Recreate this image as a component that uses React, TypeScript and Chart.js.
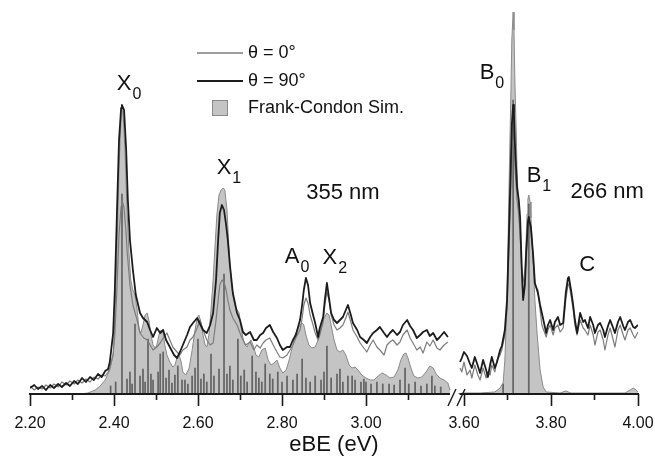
import { useEffect, useRef } from 'react';
import { Chart, registerables } from 'chart.js';

Chart.register(...registerables);

// ---------- DATA (eBE in eV, intensity in arbitrary units) ----------
const THETA90_LEFT: [number, number][] = [
  [2.200,6],[2.210,9],[2.219,5],[2.229,8],[2.238,4],[2.248,9],[2.257,6],[2.267,10],[2.276,7],[2.286,11],
  [2.295,8],[2.305,13],[2.314,10],[2.324,16],[2.333,12],[2.343,17],[2.352,14],[2.362,20],[2.371,17],[2.379,23],
  [2.386,25],[2.390,32],[2.398,61],[2.402,104],[2.407,181],[2.412,254],[2.417,286],[2.419,289],[2.424,284],[2.429,244],
  [2.433,194],[2.438,154],[2.445,124],[2.452,99],[2.462,81],[2.469,76],[2.479,72],[2.486,64],[2.493,57],[2.502,66],
  [2.510,61],[2.517,64],[2.524,54],[2.533,47],[2.543,39],[2.550,36],[2.557,42],[2.564,49],[2.574,59],[2.581,67],
  [2.590,72],[2.598,76],[2.605,70],[2.612,64],[2.621,61],[2.629,69],[2.636,81],[2.643,114],[2.648,154],[2.652,181],
  [2.657,189],[2.662,184],[2.667,169],[2.671,154],[2.676,129],[2.683,101],[2.693,81],[2.700,74],[2.707,62],[2.714,59],
  [2.724,62],[2.733,54],[2.740,54],[2.748,59],[2.755,61],[2.762,66],[2.771,69],[2.779,62],[2.788,56],[2.795,49],
  [2.802,44],[2.812,47],[2.819,47],[2.826,54],[2.833,59],[2.843,74],[2.848,89],[2.852,104],[2.857,116],[2.862,109],
  [2.867,91],[2.874,79],[2.879,71],[2.886,57],[2.890,66],[2.898,77],[2.902,94],[2.907,111],[2.912,96],[2.917,81],
  [2.924,74],[2.931,71],[2.938,74],[2.945,77],[2.952,84],[2.957,89],[2.964,79],[2.969,71],[2.979,64],[2.986,57],
  [2.995,54],[3.002,51],[3.010,57],[3.017,61],[3.026,64],[3.033,67],[3.043,61],[3.050,57],[3.057,61],[3.064,64],
  [3.074,59],[3.081,62],[3.088,69],[3.098,74],[3.105,68],[3.112,64],[3.121,56],[3.129,59],[3.136,62],[3.145,64],
  [3.152,58],[3.160,61],[3.169,54],[3.176,57],[3.186,62],[3.195,57],
];

const THETA90_RIGHT: [number, number][] = [
  [3.591,32],[3.595,36],[3.600,42],[3.607,38],[3.614,30],[3.618,26],[3.625,37],[3.632,28],[3.637,21],[3.644,34],
  [3.651,24],[3.655,17],[3.660,29],[3.664,37],[3.671,26],[3.676,32],[3.683,44],[3.687,48],[3.694,64],[3.699,94],
  [3.703,154],[3.708,234],[3.710,269],[3.713,289],[3.715,279],[3.717,251],[3.722,207],[3.726,194],[3.729,177],[3.733,124],
  [3.736,94],[3.740,109],[3.743,141],[3.747,172],[3.749,177],[3.754,166],[3.759,139],[3.763,111],[3.770,101],[3.775,89],
  [3.779,81],[3.789,61],[3.793,69],[3.798,74],[3.805,64],[3.809,72],[3.816,77],[3.821,69],[3.828,71],[3.834,101],
  [3.839,116],[3.841,117],[3.846,104],[3.851,89],[3.855,74],[3.860,61],[3.867,81],[3.874,72],[3.878,74],[3.885,66],
  [3.890,77],[3.897,69],[3.901,61],[3.908,69],[3.913,71],[3.920,64],[3.924,57],[3.931,68],[3.936,74],[3.943,66],
  [3.947,61],[3.954,72],[3.959,77],[3.966,68],[3.970,64],[3.977,72],[3.982,74],[3.989,67],[3.993,66],[4.000,69],
];

const THETA0_LEFT: [number, number][] = [
  [2.200,8],[2.210,4],[2.219,7],[2.229,5],[2.238,9],[2.248,6],[2.257,10],[2.267,7],[2.276,12],[2.286,9],
  [2.295,13],[2.305,10],[2.314,14],[2.324,11],[2.333,15],[2.343,12],[2.352,17],[2.362,15],[2.371,19],[2.379,18],
  [2.386,22],[2.390,26],[2.398,40],[2.402,60],[2.407,105],[2.412,160],[2.417,188],[2.419,194],[2.424,186],[2.429,160],
  [2.431,144],[2.438,109],[2.445,89],[2.455,74],[2.462,61],[2.471,56],[2.479,54],[2.486,49],[2.493,44],[2.502,47],
  [2.510,51],[2.517,56],[2.526,61],[2.533,54],[2.540,47],[2.550,42],[2.557,39],[2.564,44],[2.574,47],[2.581,54],
  [2.588,57],[2.598,66],[2.605,74],[2.612,64],[2.621,54],[2.629,49],[2.636,51],[2.643,74],[2.648,94],[2.652,109],
  [2.657,114],[2.662,112],[2.667,104],[2.671,94],[2.676,84],[2.683,76],[2.693,69],[2.700,61],[2.707,54],[2.714,49],
  [2.724,52],[2.733,44],[2.740,49],[2.748,46],[2.755,51],[2.762,54],[2.771,56],[2.779,49],[2.788,42],[2.795,37],
  [2.802,36],[2.812,39],[2.819,44],[2.826,49],[2.833,56],[2.843,64],[2.848,76],[2.852,89],[2.857,96],[2.862,91],
  [2.867,79],[2.874,69],[2.879,61],[2.886,54],[2.890,59],[2.898,72],[2.902,89],[2.907,102],[2.912,94],[2.917,79],
  [2.924,69],[2.931,64],[2.938,66],[2.945,69],[2.952,76],[2.957,82],[2.964,72],[2.969,64],[2.979,57],[2.986,51],
  [2.995,46],[3.002,42],[3.010,49],[3.017,54],[3.026,47],[3.033,44],[3.043,39],[3.050,49],[3.057,52],[3.064,54],
  [3.074,49],[3.081,52],[3.088,59],[3.098,64],[3.105,56],[3.112,51],[3.121,44],[3.129,47],[3.136,41],[3.145,52],
  [3.152,48],[3.160,54],[3.169,46],[3.176,44],[3.186,49],[3.195,52],
];

const THETA0_RIGHT: [number, number][] = [
  [3.591,26],[3.595,22],[3.600,32],[3.607,19],[3.614,24],[3.618,16],[3.625,29],[3.632,19],[3.637,14],[3.644,26],
  [3.651,16],[3.655,22],[3.660,19],[3.664,29],[3.671,22],[3.676,34],[3.683,39],[3.687,44],[3.694,59],[3.699,84],
  [3.703,139],[3.708,209],[3.710,239],[3.713,254],[3.715,249],[3.717,229],[3.722,194],[3.726,179],[3.729,164],[3.733,119],
  [3.736,96],[3.740,114],[3.743,139],[3.747,164],[3.749,169],[3.754,162],[3.759,136],[3.763,109],[3.770,104],[3.775,84],
  [3.779,69],[3.789,57],[3.793,64],[3.798,69],[3.805,59],[3.809,66],[3.816,69],[3.821,62],[3.828,66],[3.834,94],
  [3.839,109],[3.841,110],[3.846,99],[3.851,84],[3.855,69],[3.860,59],[3.867,74],[3.874,66],[3.878,64],[3.885,59],
  [3.890,69],[3.897,59],[3.901,49],[3.908,62],[3.913,64],[3.920,54],[3.924,44],[3.931,59],[3.936,66],[3.943,54],
  [3.947,47],[3.954,64],[3.959,69],[3.966,59],[3.970,54],[3.977,64],[3.982,66],[3.989,59],[3.993,56],[4.000,62],
];

const SIM_LEFT: [number, number][] = [
  [2.200,0],[2.319,0],[2.338,1],[2.355,4],[2.367,8],[2.379,14],[2.390,24],[2.398,39],[2.402,74],[2.407,144],
  [2.412,224],[2.417,279],[2.419,289],[2.421,286],[2.426,244],[2.431,184],[2.436,139],[2.440,114],[2.445,104],[2.450,99],
  [2.455,84],[2.460,64],[2.464,61],[2.469,69],[2.474,79],[2.479,81],[2.483,74],[2.488,59],[2.493,49],[2.498,46],
  [2.502,49],[2.507,59],[2.512,64],[2.517,61],[2.521,49],[2.526,39],[2.533,32],[2.540,27],[2.545,29],[2.550,36],
  [2.555,39],[2.560,32],[2.564,22],[2.571,19],[2.579,26],[2.586,44],[2.593,64],[2.598,76],[2.602,79],[2.607,72],
  [2.612,59],[2.617,49],[2.621,47],[2.626,59],[2.631,84],[2.636,114],[2.640,144],[2.645,179],[2.650,199],[2.655,204],
  [2.660,206],[2.664,204],[2.669,184],[2.674,144],[2.679,111],[2.683,99],[2.688,89],[2.693,84],[2.698,81],[2.702,69],
  [2.707,56],[2.712,49],[2.717,47],[2.721,51],[2.726,54],[2.731,49],[2.738,39],[2.745,37],[2.752,44],[2.760,46],
  [2.767,34],[2.774,29],[2.781,31],[2.788,34],[2.795,26],[2.802,21],[2.810,24],[2.817,34],[2.824,46],[2.831,59],
  [2.838,66],[2.843,69],[2.848,71],[2.852,69],[2.857,59],[2.864,49],[2.871,46],[2.879,47],[2.886,54],[2.893,66],
  [2.900,76],[2.907,81],[2.912,79],[2.917,69],[2.924,54],[2.931,44],[2.938,42],[2.945,44],[2.952,39],[2.960,29],
  [2.967,26],[2.974,27],[2.981,24],[2.990,19],[3.000,16],[3.010,14],[3.019,14],[3.029,18],[3.038,21],[3.048,19],
  [3.057,16],[3.067,17],[3.076,24],[3.083,34],[3.090,40],[3.095,41],[3.100,36],[3.107,26],[3.114,18],[3.124,16],
  [3.133,17],[3.143,22],[3.152,28],[3.160,26],[3.167,20],[3.176,16],[3.186,14],[3.195,11],[3.200,4],
];

const SIM_RIGHT: [number, number][] = [
  [3.586,0],[3.600,1],[3.637,1],[3.671,2],[3.683,6],[3.690,11],[3.694,34],[3.699,94],[3.703,194],[3.708,304],
  [3.710,354],[3.713,382],[3.715,364],[3.717,314],[3.720,264],[3.722,224],[3.726,180],[3.729,155],[3.733,125],[3.736,112],
  [3.740,125],[3.743,155],[3.745,180],[3.747,195],[3.749,199],[3.752,192],[3.754,176],[3.759,134],[3.763,94],[3.768,61],
  [3.775,24],[3.782,7],[3.789,2],[3.821,1],[3.834,3],[3.846,1],[3.970,1],[3.982,4],[3.989,6],[3.993,5],[4.000,2],
];

// Frank-Condon stick spectrum (position eV, intensity)
const STICKS: [number, number][] = [
  [2.419,200],[2.450,70],[2.481,55],[2.510,40],[2.517,42],[2.552,28],[2.600,55],[2.631,40],[2.662,120],[2.695,55],
  [2.729,38],[2.760,30],[2.848,35],[2.907,48],[2.938,25],[2.967,18],[2.995,15],[3.093,26],[3.157,18],
  [3.690,10],[3.713,294],[3.749,190],
];
const SMALL_STICKS: [number, number][] = [
  [2.392,8],[2.404,12],[2.431,15],[2.438,22],[2.443,10],[2.462,18],[2.469,25],[2.474,12],[2.488,20],[2.493,14],
  [2.505,22],[2.524,16],[2.531,24],[2.538,11],[2.545,19],[2.562,14],[2.569,14],[2.576,10],[2.586,18],[2.593,26],
  [2.607,15],[2.614,20],[2.621,12],[2.638,18],[2.650,25],[2.669,20],[2.676,28],[2.683,14],[2.702,18],[2.710,24],
  [2.717,12],[2.738,22],[2.745,16],[2.752,12],[2.771,20],[2.778,15],[2.790,22],[2.800,12],[2.812,18],[2.826,14],
  [2.836,20],[2.857,16],[2.867,12],[2.879,18],[2.893,14],[2.900,22],[2.917,16],[2.931,20],[2.945,12],[2.957,18],
  [2.974,14],[2.988,12],[3.000,12],[3.012,10],[3.026,12],[3.040,10],[3.055,10],[3.067,9],[3.081,14],[3.102,10],
  [3.117,12],[3.131,8],[3.145,10],[3.164,8],[3.178,7],
];

const LEFT_TICKS = [2.2, 2.3, 2.4, 2.5, 2.6, 2.7, 2.8, 2.9, 3.0, 3.1];
const RIGHT_TICKS = [3.6, 3.7, 3.8, 3.9, 4.0];
const MAJOR_TICKS = [2.2, 2.4, 2.6, 2.8, 3.0, 3.6, 3.8, 4.0];

type Note = { main: string; sub: string; e: number; h: number };
const ANNOTATIONS: Note[] = [
  { main: 'X', sub: '0', e: 2.424, h: 310 },
  { main: 'X', sub: '1', e: 2.662, h: 226 },
  { main: 'A', sub: '0', e: 2.824, h: 137 },
  { main: 'X', sub: '2', e: 2.914, h: 136 },
  { main: '355 nm', sub: '', e: 2.945, h: 201 },
  { main: 'B', sub: '0', e: 3.653, h: 321 },
  { main: 'B', sub: '1', e: 3.761, h: 218 },
  { main: '266 nm', sub: '', e: 3.929, h: 202 },
  { main: 'C', sub: '', e: 3.883, h: 129 },
];

// ---------- broken-axis transform ----------
const BREAK_LOW = 3.2;
const BREAK_HIGH = 3.6;
const BREAK_GAP = 0.0333;
const RIGHT_STRETCH = 1.036;
const toAxis = (e: number) =>
  e < 3.4 ? e : BREAK_LOW + BREAK_GAP + (e - BREAK_HIGH) * RIGHT_STRETCH;

const Y_MAX = 394;
const FONT = '"Liberation Sans", Arial, Helvetica, sans-serif';
const DARK = '#1c1c1c';
const GREY = '#7c7c7c';
const SIM_FILL = '#c4c4c4';
const SIM_EDGE = '#8a8a8a';
const STICK = '#666666';
const AXIS = '#1a1a1a';

const ALL_TICKS = [...LEFT_TICKS, ...RIGHT_TICKS];
const isMajor = (v: number) => MAJOR_TICKS.some((m) => Math.abs(m - v) < 1e-6);
const TICK_LABELS = ALL_TICKS.map((v) => (isMajor(v) ? v.toFixed(2) : ''));

const decorPlugin = {
  id: 'decor',
  afterDraw(chart: any) {
    const ctx = chart.ctx as CanvasRenderingContext2D;
    const xs = chart.scales.x;
    const ys = chart.scales.y;
    const area = chart.chartArea;
    const y0 = area.bottom;
    ctx.save();
    // axis line with break
    ctx.strokeStyle = AXIS;
    ctx.lineWidth = 1.8;
    ctx.beginPath();
    ctx.moveTo(xs.getPixelForValue(toAxis(2.2)) - 1, y0);
    ctx.lineTo(xs.getPixelForValue(toAxis(BREAK_LOW)), y0);
    ctx.moveTo(xs.getPixelForValue(toAxis(3.59)), y0);
    ctx.lineTo(xs.getPixelForValue(toAxis(4.0)) + 1, y0);
    ctx.stroke();
    // tick marks
    ctx.lineWidth = 1.6;
    ALL_TICKS.forEach((v) => {
      const px = Math.round(xs.getPixelForValue(toAxis(v))) + 0.5;
      const len = isMajor(v) ? 12 : 6;
      ctx.beginPath();
      ctx.moveTo(px, y0);
      ctx.lineTo(px, y0 + len);
      ctx.stroke();
    });
    // break slashes
    const xl = xs.getPixelForValue(toAxis(BREAK_LOW));
    const xr = xs.getPixelForValue(toAxis(BREAK_HIGH));
    const mid = (xl + xr) / 2;
    ctx.lineWidth = 1.4;
    [-5, 4].forEach((d) => {
      ctx.beginPath();
      ctx.moveTo(mid + d - 4, y0 + 12);
      ctx.lineTo(mid + d + 4, y0 - 5);
      ctx.stroke();
    });
    // annotations
    ctx.fillStyle = '#111';
    ANNOTATIONS.forEach((a) => {
      const px = xs.getPixelForValue(toAxis(a.e));
      const py = ys.getPixelForValue(a.h);
      ctx.font = `22px ${FONT}`;
      ctx.textAlign = 'center';
      ctx.textBaseline = 'middle';
      ctx.fillText(a.main, px, py);
      if (a.sub) {
        const w = ctx.measureText(a.main).width;
        ctx.font = `16px ${FONT}`;
        ctx.textAlign = 'left';
        ctx.fillText(a.sub, px + w / 2 + 1, py + 11);
      }
    });
    // legend
    ctx.font = `18px ${FONT}`;
    ctx.textAlign = 'left';
    ctx.textBaseline = 'middle';
    ctx.strokeStyle = GREY;
    ctx.lineWidth = 1.3;
    ctx.beginPath();
    ctx.moveTo(197, 53);
    ctx.lineTo(243, 53);
    ctx.stroke();
    ctx.fillText('θ = 0°', 248, 53);
    ctx.strokeStyle = DARK;
    ctx.lineWidth = 2;
    ctx.beginPath();
    ctx.moveTo(197, 81);
    ctx.lineTo(243, 81);
    ctx.stroke();
    ctx.fillText('θ = 90°', 248, 81);
    ctx.fillStyle = SIM_FILL;
    ctx.fillRect(212, 100, 16, 16);
    ctx.strokeStyle = SIM_EDGE;
    ctx.lineWidth = 1;
    ctx.strokeRect(212.5, 100.5, 15, 15);
    ctx.fillStyle = '#111';
    ctx.fillText('Frank-Condon Sim.', 248, 108);
    ctx.restore();
  },
};

export default function App() {
  const ref = useRef<HTMLCanvasElement>(null);
  useEffect(() => {
    const canvas = ref.current;
    if (!canvas) return;
    const pts = (arr: [number, number][]) => arr.map(([e, h]) => ({ x: toAxis(e), y: h }));
    const line = (label: string, arr: [number, number][], color: string, width: number, order: number, extra: any = {}) => ({
      type: 'line' as const,
      label,
      data: pts(arr),
      borderColor: color,
      borderWidth: width,
      pointRadius: 0,
      tension: 0,
      fill: false,
      borderJoinStyle: 'round' as const,
      order,
      ...extra,
    });
    const chart = new Chart(canvas, {
      type: 'line',
      data: {
        datasets: [
          line('θ = 90°', THETA90_LEFT, DARK, 1.8, 0),
          line('θ = 90°', THETA90_RIGHT, DARK, 1.8, 0),
          line('θ = 0°', THETA0_LEFT, GREY, 1.2, 1),
          line('θ = 0°', THETA0_RIGHT, GREY, 1.2, 1),
          {
            type: 'bar' as const,
            label: 'sticks',
            data: pts([...STICKS, ...SMALL_STICKS]),
            backgroundColor: STICK,
            barThickness: 1.1,
            order: 2,
          } as any,
          line('Frank-Condon Sim.', SIM_LEFT, SIM_EDGE, 1, 3, { fill: 'origin', backgroundColor: SIM_FILL }),
          line('Frank-Condon Sim.', SIM_RIGHT, SIM_EDGE, 1, 3, { fill: 'origin', backgroundColor: SIM_FILL }),
        ] as any,
      },
      options: {
        responsive: false,
        animation: false,
        layout: { padding: { left: 30, right: 17, top: 0, bottom: 0 } },
        plugins: { legend: { display: false }, tooltip: { enabled: false } },
        scales: {
          x: {
            type: 'linear',
            min: 2.2,
            max: toAxis(4.0),
            offset: false,
            afterBuildTicks: (s: any) => {
              s.ticks = ALL_TICKS.map((v) => ({ value: toAxis(v) }));
            },
            afterFit: (s: any) => {
              s.height = 64;
              s.paddingLeft = 0;
              s.paddingRight = 0;
            },
            grid: { display: false, drawTicks: false },
            border: { display: false },
            ticks: {
              autoSkip: false,
              maxRotation: 0,
              padding: 20,
              color: '#111',
              font: { family: FONT, size: 16 },
              callback: (_v: any, i: number) => TICK_LABELS[i],
            },
            title: {
              display: true,
              text: 'eBE (eV)',
              color: '#111',
              font: { family: FONT, size: 22 },
              padding: { top: 0, bottom: 0 },
            },
          },
          y: { display: false, min: 0, max: Y_MAX },
        },
      } as any,
      plugins: [decorPlugin],
    });
    return () => chart.destroy();
  }, []);
  return (
    <div style={{ position: 'fixed', left: 0, top: 0, width: 655, height: 458, background: '#fff' }}>
      <canvas ref={ref} width={655} height={458} style={{ display: 'block' }} />
    </div>
  );
}
